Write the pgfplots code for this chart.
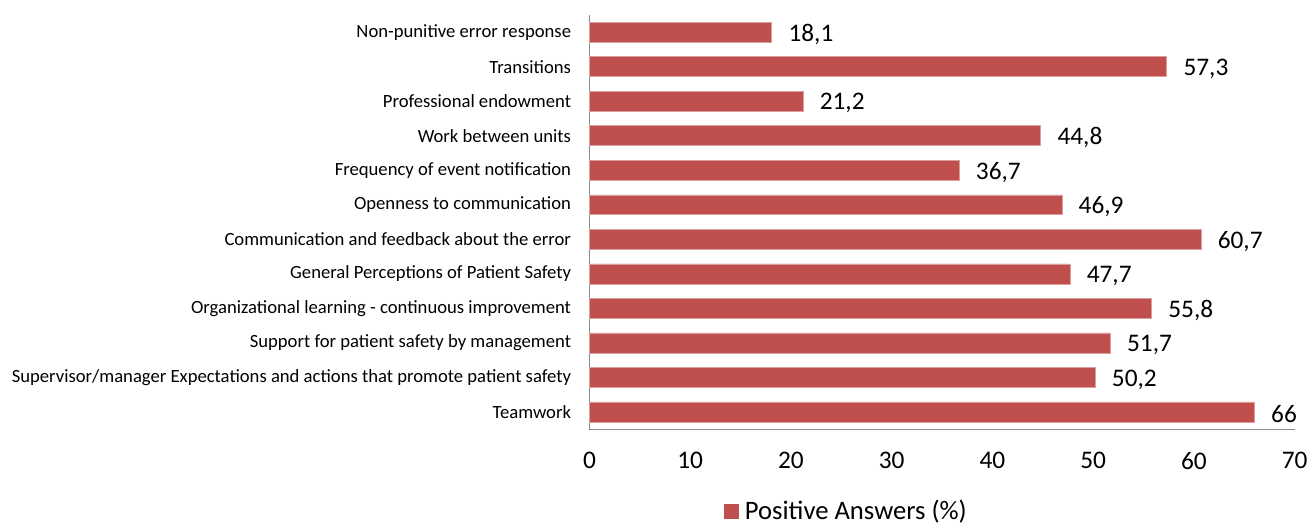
\documentclass[border=0pt]{standalone}
\usepackage{fontspec}
\setmainfont{Carlito}
\usepackage{pgfplots}
\pgfplotsset{compat=1.18}
\definecolor{barcol}{HTML}{C0504D}
\definecolor{axcol}{HTML}{8C8C8C}
\begin{document}
\begin{tikzpicture}
\begin{axis}[
  scale only axis,
  width=529.5pt, height=311pt,
  xmin=0, xmax=70,
  ymin=-0.5, ymax=11.5,
  y dir=reverse,
  xbar, bar width=15pt,
  axis x line*=bottom, axis y line*=left,
  axis line style={draw=axcol, line width=1pt, -},
  xtick={0,10,...,70},
  ytick={0,...,11},
  yticklabels={Non-punitive error response, Transitions, Professional endowment, Work between units, Frequency of event notification, Openness to communication, Communication and feedback about the error, General Perceptions of Patient Safety, Organizational learning - continuous improvement, Support for patient safety by management, Supervisor/manager Expectations and actions that promote patient safety, Teamwork},
  major tick style={draw=none},
  /pgf/number format/assume math mode=true,
  /pgf/number format/use comma,
  xticklabel style={font=\fontsize{19}{21}\selectfont, yshift=-14pt},
  yticklabel style={font=\fontsize{14}{16}\selectfont, xshift=-6pt},
  nodes near coords,
  nodes near coords style={font=\fontsize{19}{21}\selectfont, anchor=west, xshift=9pt, yshift=-1.5pt, black},
  legend style={at={(0.365,-0.198)}, anchor=center, draw=none, font=\fontsize{20}{22}\selectfont, inner sep=0pt,
    /tikz/every even column/.append style={column sep=0pt}},
  legend image code/.code={\fill[barcol] (0pt,-5.2pt) rectangle (10.5pt,5.2pt); \path (13pt,0pt);},
  clip=false,
]
\addplot[fill=barcol, draw=barcol!55!white, line width=0.5pt] coordinates {
(18.1,0) (57.3,1) (21.2,2) (44.8,3) (36.7,4) (46.9,5) (60.7,6) (47.7,7) (55.8,8) (51.7,9) (50.2,10) (66,11)};
\addlegendentry{Positive Answers (\%)}
\path (rel axis cs:-0.8357,-0.2337) rectangle (rel axis cs:1.0227,1.0361);
\end{axis}
\end{tikzpicture}
\end{document}
